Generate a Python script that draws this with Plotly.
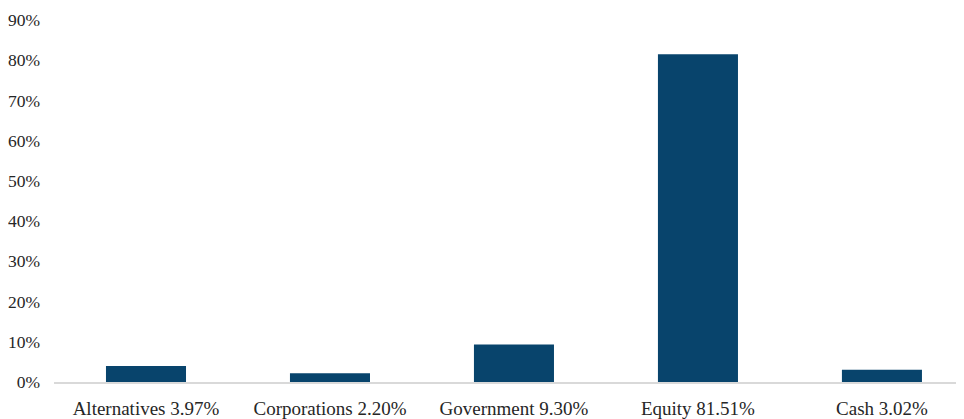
import plotly.graph_objects as go

categories = ["Alternatives 3.97%", "Corporations 2.20%", "Government 9.30%", "Equity 81.51%", "Cash 3.02%"]
values = [3.97, 2.20, 9.30, 81.51, 3.02]
y_ticks = [0, 10, 20, 30, 40, 50, 60, 70, 80, 90]
y_tick_labels = [f"{v}%" for v in y_ticks]

fig = go.Figure(go.Bar(
    x=list(range(len(categories))), y=values,
    marker=dict(color="#08446c", line=dict(width=0)),
    width=0.435,
))

font = "Liberation Serif"
fig.update_layout(
    width=956, height=411,
    margin=dict(l=46, r=0, t=12, b=37, autoexpand=False),
    paper_bgcolor="white", plot_bgcolor="white",
    showlegend=False,
    font=dict(family=font),
    xaxis=dict(
        tickmode="array", tickvals=list(range(len(categories))), ticktext=categories,
        range=[-0.5, 4.446], automargin=False,
        showline=True, linecolor="#d9d9d9", linewidth=2,
        showgrid=False, zeroline=False, ticks="",
        ticklabelstandoff=8,
        tickfont=dict(family=font, size=19, color="#262626"),
    ),
    yaxis=dict(
        range=[0, 90], tickmode="array", tickvals=y_ticks, ticktext=y_tick_labels,
        showline=False, showgrid=False, zeroline=False, ticks="", automargin=False,
        ticklabelstandoff=13,
        tickfont=dict(family=font, size=17.5, color="#262626"),
    ),
)

fig.write_html("out.html")
